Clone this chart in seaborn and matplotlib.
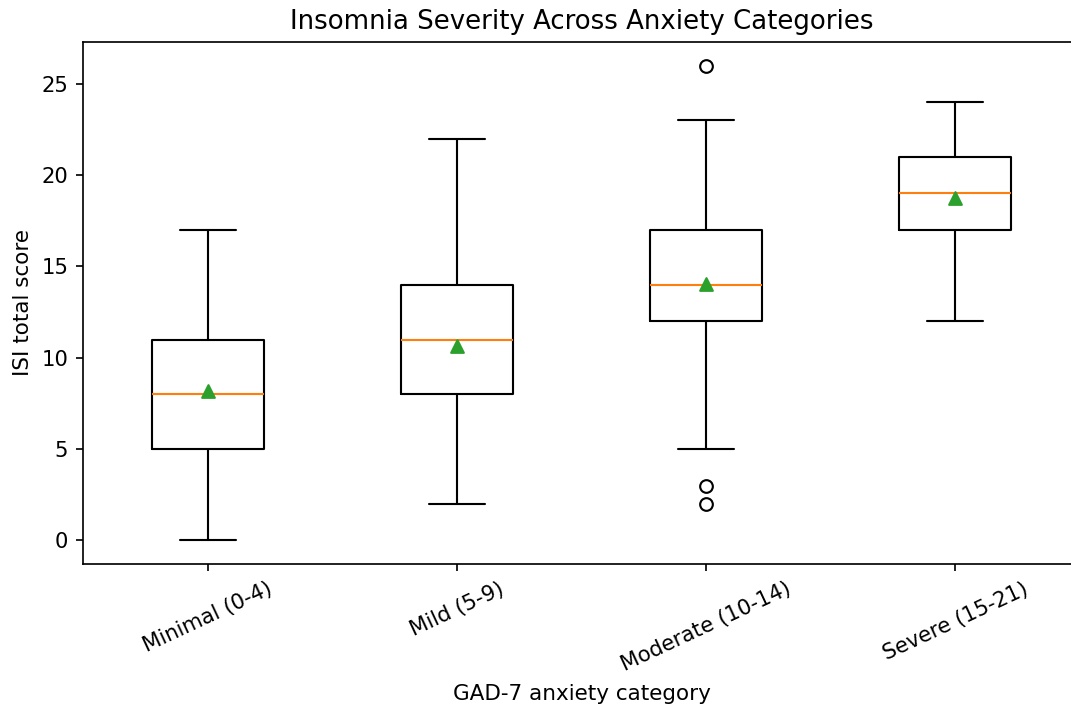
import matplotlib
matplotlib.use("Agg")
import matplotlib.pyplot as plt
import seaborn as sns
import pandas as pd

# box statistics
categories = ["Minimal (0-4)", "Mild (5-9)", "Moderate (10-14)", "Severe (15-21)"]
whisker_low = [0, 2, 5, 12]
q1 = [5, 8, 12, 17]
median = [8, 11, 14, 19]
q3 = [11, 14, 17, 21]
whisker_high = [17, 22, 23, 24]
means = [8.17, 10.63, 14.03, 18.76]
fliers = [[], [], [2, 3, 26], []]

sns.set_style("ticks", {"axes.grid": False, "text.color": "black",
                        "axes.labelcolor": "black", "xtick.color": "black",
                        "ytick.color": "black", "axes.edgecolor": "black"})
plt.rcParams["font.family"] = ["DejaVu Sans"]

stats = []
for i, cat in enumerate(categories):
    stats.append({
        "label": cat,
        "whislo": whisker_low[i],
        "q1": q1[i],
        "med": median[i],
        "q3": q3[i],
        "whishi": whisker_high[i],
        "mean": means[i],
        "fliers": fliers[i],
    })

W, H, DPI = 1071, 713, 152
fig = plt.figure(figsize=(W / DPI, H / DPI), dpi=DPI)
# the reference crops the right spine off, so the axes run slightly past the edge
ax = fig.add_axes([83 / W, 1 - 564 / H, (1080 - 83) / W, (564 - 42) / H])

positions = list(range(1, len(categories) + 1))
ax.bxp(stats, positions=positions, showmeans=False,
       boxprops=dict(color="black"), whiskerprops=dict(color="black"),
       capprops=dict(color="black"), medianprops=dict(color="C1"),
       flierprops=dict(marker="o", markerfacecolor="none", markeredgecolor="black"))

mean_df = pd.DataFrame({"pos": positions, "mean": means})
sns.scatterplot(data=mean_df, x="pos", y="mean", marker="^", s=36, color="C2",
                edgecolor="C2", linewidth=1, zorder=3, ax=ax, legend=False)

ax.set_xlim(0.5, 4.5)
ax.set_xticks(positions)
ax.set_xticklabels(categories, rotation=25)
ax.set_title("Insomnia Severity Across Anxiety Categories", fontsize=12.3)
ax.set_xlabel("GAD-7 anxiety category", fontsize=10.2)
ax.set_ylabel("ISI total score", fontsize=10.2)
ax.tick_params(labelsize=10, length=3.5, width=0.8)
for s in ax.spines.values():
    s.set_linewidth(0.8)

fig.savefig("out.png", dpi=DPI)
